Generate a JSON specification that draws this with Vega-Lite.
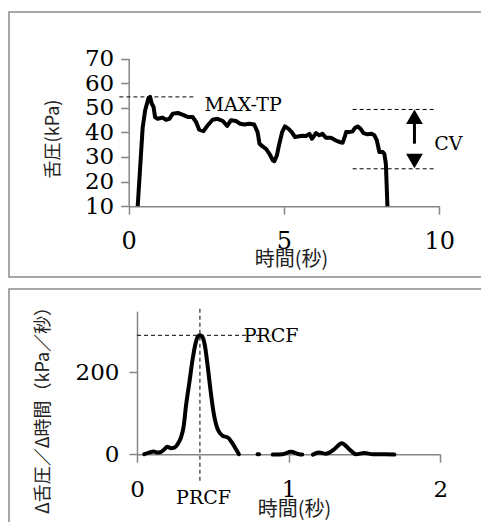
{
  "$schema": "https://vega.github.io/schema/vega-lite/v6.json",
  "padding": {"left": 8, "top": 11, "right": 0, "bottom": 0},
  "spacing": 10,
  "datasets": {
    "pressure": [
      {"t":0.29,"p":10},{"t":0.45,"p":42},{"t":0.53,"p":49},{"t":0.64,"p":54},{"t":0.69,"p":54.4},{"t":0.74,"p":51.7},{"t":0.8,"p":50.3},{"t":0.85,"p":46.2},{"t":0.93,"p":45.5},{"t":1.09,"p":46},{"t":1.2,"p":45.1},{"t":1.31,"p":45.5},{"t":1.42,"p":47.6},{"t":1.58,"p":47.9},{"t":1.79,"p":46.9},{"t":1.9,"p":46.2},{"t":2.06,"p":46.2},{"t":2.17,"p":44.2},{"t":2.27,"p":41.1},{"t":2.41,"p":40.5},{"t":2.54,"p":42.8},{"t":2.7,"p":45.1},{"t":2.86,"p":45.5},{"t":3.03,"p":44.6},{"t":3.17,"p":42.6},{"t":3.29,"p":44.9},{"t":3.45,"p":44.6},{"t":3.59,"p":43.5},{"t":3.72,"p":43.2},{"t":3.88,"p":43.5},{"t":4.04,"p":43.2},{"t":4.15,"p":40.1},{"t":4.21,"p":35.4},{"t":4.31,"p":34.3},{"t":4.42,"p":33.3},{"t":4.53,"p":31.3},{"t":4.64,"p":28.6},{"t":4.69,"p":28.3},{"t":4.77,"p":30.6},{"t":4.85,"p":35.4},{"t":4.94,"p":40.1},{"t":5.03,"p":42.4},{"t":5.14,"p":41.5},{"t":5.25,"p":40.1},{"t":5.35,"p":38.1},{"t":5.49,"p":38.4},{"t":5.6,"p":38.6},{"t":5.71,"p":38.5},{"t":5.82,"p":39.4},{"t":5.9,"p":37.4},{"t":6.03,"p":39.7},{"t":6.14,"p":38.8},{"t":6.24,"p":39.4},{"t":6.35,"p":37.8},{"t":6.51,"p":37.8},{"t":6.67,"p":36.7},{"t":6.78,"p":36.1},{"t":6.89,"p":35.8},{"t":6.96,"p":38.4},{"t":7.0,"p":40.1},{"t":7.1,"p":40.1},{"t":7.21,"p":40.4},{"t":7.29,"p":41.9},{"t":7.37,"p":42.4},{"t":7.46,"p":41.5},{"t":7.56,"p":39.7},{"t":7.69,"p":39.2},{"t":7.82,"p":39.4},{"t":7.91,"p":38.8},{"t":7.99,"p":36.7},{"t":8.07,"p":32.0},{"t":8.18,"p":32.0},{"t":8.23,"p":31.3},{"t":8.28,"p":27.2},{"t":8.33,"p":10}
    ],
    "topRules": [
      {"x1":-0.3,"x2":2.17,"y":54.4},
      {"x1":7.21,"x2":9.84,"y":49.3},
      {"x1":7.21,"x2":9.84,"y":25.2}
    ],
    "shaft": [{"x":9.2,"y1":35.4,"y2":43.5}],
    "heads": [
      {"x":9.2,"y":46.3,"shape":"triangle-up"},
      {"x":9.2,"y":28.4,"shape":"triangle-down"}
    ],
    "topLabels": [
      {"x":2.44,"y":51.3,"label":"MAX-TP"},
      {"x":9.84,"y":35.4,"label":"CV"}
    ],
    "rate": [
      {"t":0.048,"d":0,"seg":"A"},{"t":0.08,"d":4,"seg":"A"},{"t":0.11,"d":6.5,"seg":"A"},{"t":0.136,"d":4,"seg":"A"},{"t":0.158,"d":5.7,"seg":"A"},{"t":0.18,"d":12,"seg":"A"},{"t":0.2,"d":18,"seg":"A"},{"t":0.224,"d":14.7,"seg":"A"},{"t":0.246,"d":16,"seg":"A"},{"t":0.268,"d":24.5,"seg":"A"},{"t":0.29,"d":41,"seg":"A"},{"t":0.308,"d":69,"seg":"A"},{"t":0.323,"d":118,"seg":"A"},{"t":0.345,"d":175,"seg":"A"},{"t":0.367,"d":233,"seg":"A"},{"t":0.385,"d":269,"seg":"A"},{"t":0.4,"d":287,"seg":"A"},{"t":0.415,"d":291,"seg":"A"},{"t":0.433,"d":286,"seg":"A"},{"t":0.448,"d":265,"seg":"A"},{"t":0.466,"d":216,"seg":"A"},{"t":0.484,"d":159,"seg":"A"},{"t":0.505,"d":102,"seg":"A"},{"t":0.532,"d":61,"seg":"A"},{"t":0.565,"d":45,"seg":"A"},{"t":0.598,"d":41,"seg":"A"},{"t":0.626,"d":28.6,"seg":"A"},{"t":0.653,"d":12,"seg":"A"},{"t":0.672,"d":0,"seg":"A"},
      {"t":0.795,"d":0,"seg":"B"},{"t":0.805,"d":0,"seg":"B"},
      {"t":0.895,"d":-1,"seg":"C"},{"t":0.96,"d":0,"seg":"C"},{"t":1.015,"d":6,"seg":"C"},{"t":1.07,"d":0,"seg":"C"},{"t":1.09,"d":-1,"seg":"C"},
      {"t":1.16,"d":-1,"seg":"D"},{"t":1.2,"d":4,"seg":"D"},{"t":1.246,"d":1,"seg":"D"},{"t":1.3,"d":12,"seg":"D"},{"t":1.35,"d":27,"seg":"D"},{"t":1.4,"d":12,"seg":"D"},{"t":1.444,"d":0,"seg":"D"},{"t":1.5,"d":3,"seg":"D"},{"t":1.554,"d":0,"seg":"D"},{"t":1.63,"d":0,"seg":"D"},{"t":1.697,"d":-1,"seg":"D"}
    ],
    "botH": [{"x1":0,"x2":0.88,"y":291}],
    "botV": [{"x":0.415,"y1":-65,"y2":363}],
    "botLabels": [
      {"x":0.884,"y":290,"label":"PRCF","align":"left"},
      {"x":0.4385,"y":-108,"label":"PRCF","align":"center"}
    ]
  },
  "vconcat": [
    {
      "width": 473,
      "height": 265,
      "layer": [
        {
          "data": {"name": "pressure"},
          "mark": {"type": "line", "color": "black", "strokeWidth": 4, "strokeJoin": "round", "strokeCap": "butt"},
          "encoding": {
            "x": {"field": "t", "type": "quantitative",
              "scale": {"domain": [0, 10], "range": [119.7, 430.3], "nice": false, "zero": false},
              "axis": {"values": [0, 5, 10], "labelExpr": "datum.value + ''", "labelOverlap": false, "offset": -70.8, "labelFont": "DejaVu Serif", "labelFontSize": 24, "labelPadding": 15, "title": "時間(秒)", "titleX": 282, "titleY": 53, "titleBaseline": "middle", "titleAlign": "center"}},
            "y": {"field": "p", "type": "quantitative",
              "scale": {"domain": [10, 70], "range": [194.2, 46.5], "nice": false, "zero": false},
              "axis": {"values": [10, 20, 30, 40, 50, 60, 70], "labelExpr": "datum.value + ''", "labelOverlap": false, "offset": -119.7, "labelFont": "DejaVu Serif", "labelFontSize": 23, "labelPadding": 7, "title": "舌圧(kPa)", "titleX": -75, "titleY": 126.5, "titleBaseline": "middle", "titleAlign": "center", "titleFontSize": 18}}
          }
        },
        {
          "data": {"name": "topRules"},
          "mark": {"type": "rule", "color": "black", "strokeWidth": 1, "strokeDash": [4, 3]},
          "encoding": {
            "x": {"field": "x1", "type": "quantitative"},
            "x2": {"field": "x2"},
            "y": {"field": "y", "type": "quantitative"}
          }
        },
        {
          "data": {"name": "shaft"},
          "mark": {"type": "rule", "color": "black", "strokeWidth": 3},
          "encoding": {
            "x": {"field": "x", "type": "quantitative"},
            "y": {"field": "y1", "type": "quantitative"},
            "y2": {"field": "y2"}
          }
        },
        {
          "data": {"name": "heads"},
          "mark": {"type": "point", "filled": true, "color": "black", "opacity": 1, "size": 280, "strokeWidth": 0},
          "encoding": {
            "x": {"field": "x", "type": "quantitative"},
            "y": {"field": "y", "type": "quantitative"},
            "shape": {"field": "shape", "type": "nominal", "scale": null, "legend": null}
          }
        },
        {
          "data": {"name": "topLabels"},
          "mark": {"type": "text", "font": "DejaVu Serif", "fontSize": 19, "color": "black", "align": "left", "baseline": "middle"},
          "encoding": {
            "x": {"field": "x", "type": "quantitative"},
            "y": {"field": "y", "type": "quantitative"},
            "text": {"field": "label"}
          }
        }
      ]
    },
    {
      "width": 473,
      "height": 236,
      "layer": [
        {
          "data": {"name": "rate"},
          "mark": {"type": "line", "color": "black", "strokeWidth": 4, "strokeJoin": "round", "strokeCap": "round", "interpolate": "monotone"},
          "encoding": {
            "x": {"field": "t", "type": "quantitative",
              "scale": {"domain": [0, 2], "range": [128, 431.3], "nice": false, "zero": false},
              "axis": {"values": [0, 1, 2], "labelExpr": "datum.value + ''", "labelOverlap": false, "offset": -70.8, "labelFont": "DejaVu Serif", "labelFontSize": 23, "labelPadding": 16, "title": "時間(秒)", "titleX": 285, "titleY": 55, "titleBaseline": "middle", "titleAlign": "center"}},
            "y": {"field": "d", "type": "quantitative",
              "scale": {"domain": [0, 350], "range": [165.2, 22.2], "nice": false, "zero": false},
              "axis": {"values": [0, 200], "labelExpr": "datum.value + ''", "labelOverlap": false, "offset": -128, "labelFont": "DejaVu Serif", "labelFontSize": 23, "labelPadding": 10, "title": "Δ舌圧／Δ時間（kPa／秒）", "titleX": -94, "titleY": 116.5, "titleBaseline": "middle", "titleAlign": "center", "titleFontSize": 18}},
            "detail": {"field": "seg", "type": "nominal"}
          }
        },
        {
          "data": {"name": "botH"},
          "mark": {"type": "rule", "color": "black", "strokeWidth": 1, "strokeDash": [4, 3]},
          "encoding": {
            "x": {"field": "x1", "type": "quantitative"},
            "x2": {"field": "x2"},
            "y": {"field": "y", "type": "quantitative"}
          }
        },
        {
          "data": {"name": "botV"},
          "mark": {"type": "rule", "color": "black", "strokeWidth": 1, "strokeDash": [4, 3]},
          "encoding": {
            "x": {"field": "x", "type": "quantitative"},
            "y": {"field": "y1", "type": "quantitative"},
            "y2": {"field": "y2"}
          }
        },
        {
          "data": {"name": "botLabels"},
          "mark": {"type": "text", "font": "DejaVu Serif", "fontSize": 19, "color": "black", "baseline": "middle"},
          "encoding": {
            "x": {"field": "x", "type": "quantitative"},
            "y": {"field": "y", "type": "quantitative"},
            "text": {"field": "label"},
            "align": {"field": "align", "type": "nominal", "scale": null, "legend": null}
          }
        }
      ]
    }
  ],
  "resolve": {"scale": {"x": "independent", "y": "independent"}},
  "config": {
    "font": "DejaVu Serif",
    "view": {"stroke": "#8a8a8a", "strokeWidth": 1.5},
    "axis": {
      "grid": false,
      "domainColor": "#868686",
      "domainWidth": 1.5,
      "tickColor": "#868686",
      "tickWidth": 1.5,
      "tickSize": 8,
      "labelFont": "DejaVu Serif",
      "labelColor": "black",
      "labelFlush": false,
      "labelOverlap": false,
      "titleFont": "Noto Sans CJK JP",
      "titleFontSize": 20,
      "titleFontWeight": "normal",
      "titleColor": "#222222"
    },
    "text": {"font": "DejaVu Serif"}
  }
}
